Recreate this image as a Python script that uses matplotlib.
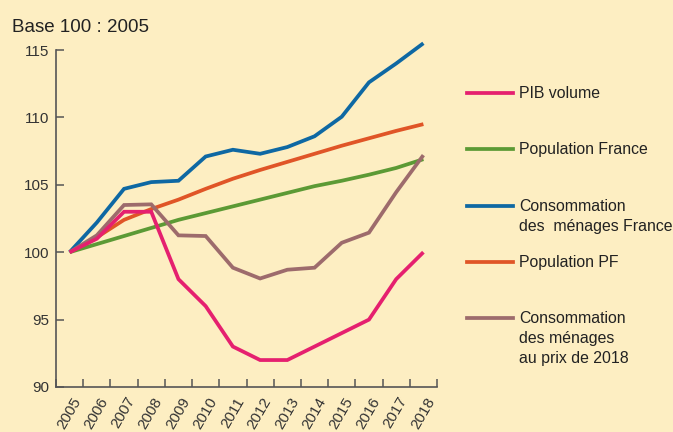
import matplotlib
matplotlib.use("Agg")
import matplotlib.pyplot as plt
import matplotlib.transforms as mtransforms
from matplotlib.lines import Line2D

plt.rcParams['font.family'] = ['Liberation Sans', 'DejaVu Sans']

years = ["2005", "2006", "2007", "2008", "2009", "2010", "2011",
         "2012", "2013", "2014", "2015", "2016", "2017", "2018"]

pib_volume = [100, 101.0, 103.0, 103.0, 98.0, 96.0, 93.0, 92.0, 92.0, 93.0, 94.0, 95.0, 98.0, 100.0]
pop_france = [100, 100.6, 101.2, 101.8, 102.4, 102.9, 103.4, 103.9, 104.4, 104.9, 105.3, 105.75, 106.25, 106.9]
conso_france = [100, 102.2, 104.7, 105.2, 105.3, 107.1, 107.6, 107.3, 107.8, 108.6, 110.05, 112.6, 114.0, 115.5]
pop_pf = [100, 101.1, 102.4, 103.2, 103.9, 104.7, 105.45, 106.1, 106.7, 107.3, 107.9, 108.45, 109.0, 109.5]
conso_pf = [100, 101.25, 103.5, 103.55, 101.25, 101.2, 98.85, 98.05, 98.7, 98.85, 100.7, 101.45, 104.45, 107.2]

bg = "#fdeec2"
colors = {
    "pib": "#e5206f",
    "popfr": "#5c9a35",
    "consofr": "#0e68a3",
    "poppf": "#e05527",
    "consopf": "#9d6b6c",
}

fig = plt.figure(figsize=(6.73, 4.32), dpi=100, facecolor=bg)
ax = fig.add_axes([56 / 673, 1 - 387 / 432, (437 - 56) / 673, (387 - 50) / 432])
ax.set_facecolor(bg)

x = list(range(len(years)))
series = [
    (pop_france, colors["popfr"]),
    (pop_pf, colors["poppf"]),
    (conso_france, colors["consofr"]),
    (conso_pf, colors["consopf"]),
    (pib_volume, colors["pib"]),
]
for vals, c in series:
    ax.plot(x, vals, color=c, lw=2.7, clip_on=False, solid_capstyle='butt',
            solid_joinstyle='miter')

ax.set_xlim(-0.5, len(years) - 0.5)
ax.set_ylim(90, 115)
ax.set_yticks([90, 95, 100, 105, 110, 115])
ax.set_xticks([i - 0.5 for i in range(len(years) + 1)])
ax.set_xticklabels([])
ax.set_xticks(x, minor=True)
ax.set_xticklabels(years, minor=True, rotation=60, ha='right', va='center',
                   rotation_mode='anchor', fontsize=11, color="#333333")
ax.tick_params(axis='x', which='minor', length=0, pad=8)
ax.tick_params(axis='both', which='major', direction='in', length=6,
               width=1.1, color="#555555")
ax.tick_params(axis='y', labelsize=11, labelcolor="#333333", pad=5)

offset = mtransforms.ScaledTranslation(8 / 100, 0, fig.dpi_scale_trans)
for lbl in ax.xaxis.get_minorticklabels():
    lbl.set_transform(lbl.get_transform() + offset)

for s in ['top', 'right']:
    ax.spines[s].set_visible(False)
for s in ['left', 'bottom']:
    ax.spines[s].set_color("#555555")
    ax.spines[s].set_linewidth(1.2)

fig.text(12 / 673, 1 - 32 / 432, "Base 100 : 2005", fontsize=13.5, color="#222222",
         va='baseline')

# legend, drawn by hand so the line sits on the first text line
legend_items = [
    (colors["pib"], "PIB volume"),
    (colors["popfr"], "Population France"),
    (colors["consofr"], "Consommation\ndes  ménages France"),
    (colors["poppf"], "Population PF"),
    (colors["consopf"], "Consommation\ndes ménages\nau prix de 2018"),
]
y0 = 1 - 93 / 432
step = 56.3 / 432
for i, (c, lab) in enumerate(legend_items):
    yy = y0 - i * step
    fig.add_artist(Line2D([467 / 673, 513 / 673], [yy, yy], color=c, lw=2.7,
                          transform=fig.transFigure))
    fig.text(519 / 673, yy + 7 / 432, lab, fontsize=11.4, color="#222222",
             va='top', ha='left', linespacing=1.42)

fig.savefig("out.png", dpi=100, facecolor=bg)
